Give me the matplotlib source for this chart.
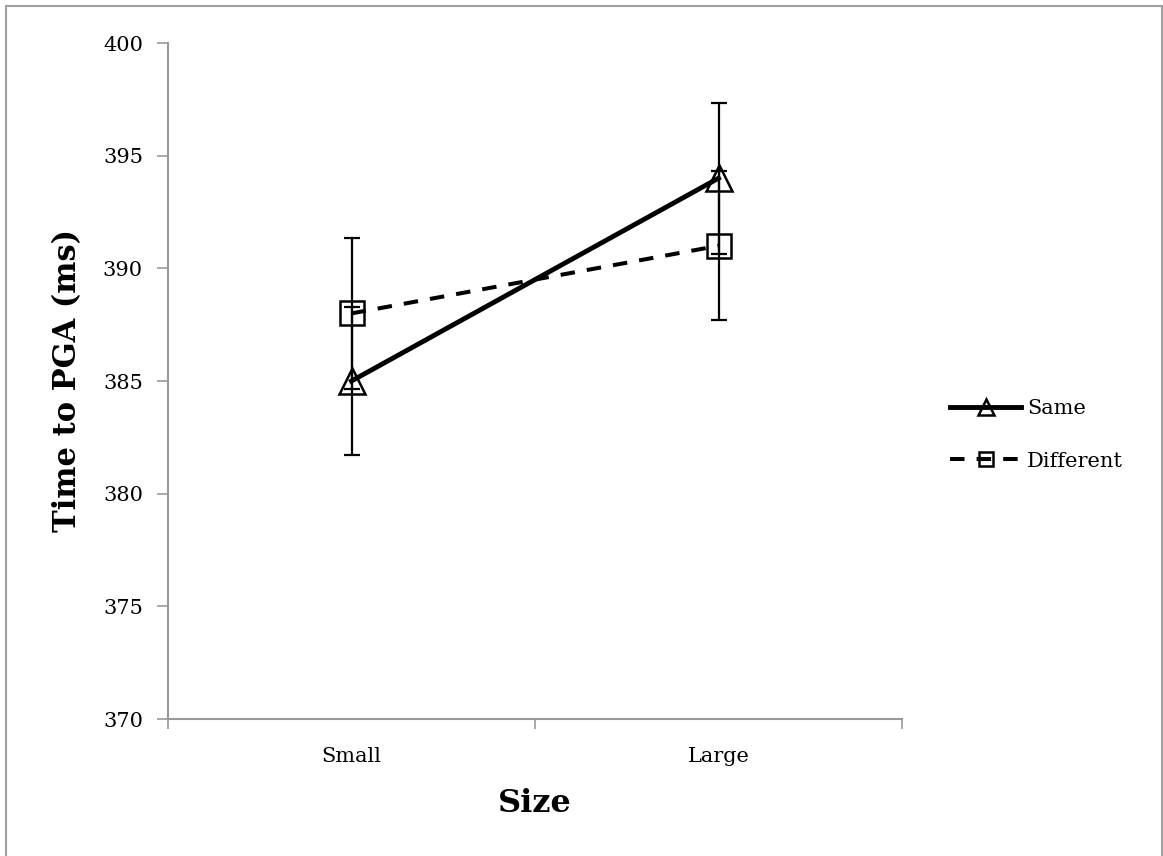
import matplotlib
matplotlib.use("Agg")
import matplotlib.pyplot as plt
from matplotlib.patches import Rectangle
import numpy as np

categories = ["Small", "Large"]
same_vals = [385.0, 394.0]
same_err = [3.3, 3.35]
diff_vals = [388.0, 391.0]
diff_err = [3.35, 3.3]
yticks = [370, 375, 380, 385, 390, 395, 400]

plt.rcParams['font.family'] = ['DejaVu Serif']

fig = plt.figure(figsize=(11.63, 8.56), dpi=100)
ax = fig.add_axes([168/1163, 1-719/856, (902-168)/1163, (719-43)/856])

x = np.arange(len(categories))

ax.errorbar(x, same_vals, yerr=same_err, fmt='none', ecolor='black', elinewidth=1.6,
            capsize=6, capthick=1.6, zorder=4)
ax.errorbar(x, diff_vals, yerr=diff_err, fmt='none', ecolor='black', elinewidth=1.6,
            capsize=6, capthick=1.6, zorder=4)
ax.plot(x, same_vals, color='black', lw=3.5, ls='-', marker='^', markersize=18.5,
        markerfacecolor='none', markeredgecolor='black', markeredgewidth=1.8,
        label='Same', zorder=3)
ax.plot(x, diff_vals, color='black', lw=2.9, ls=(0, (3.6, 3)), marker='s', markersize=17.5,
        markerfacecolor='none', markeredgecolor='black', markeredgewidth=1.8,
        label='Different', zorder=3)

ax.set_xlim(-0.5, 1.5)
ax.set_ylim(370, 400)
ax.set_yticks(yticks)
ax.set_yticklabels([str(v) for v in yticks], fontsize=15)
ax.set_xticks([-0.5, 0.5, 1.5])
ax.set_xticklabels([])
ax.set_xticks(x, minor=True)
ax.set_xticklabels(categories, minor=True, fontsize=15)
ax.tick_params(axis='x', which='minor', length=0, pad=20)
ax.tick_params(axis='x', which='major', length=7, width=1.2, color='#999999', direction='out')
ax.tick_params(axis='y', length=8, width=1.2, color='#999999', direction='out', pad=10)

for s in ['top', 'right']:
    ax.spines[s].set_visible(False)
for s in ['left', 'bottom']:
    ax.spines[s].set_color('#999999')
    ax.spines[s].set_linewidth(1.5)

ax.set_ylabel("Time to PGA (ms)", fontsize=22, fontweight='bold', labelpad=14)
ax.set_xlabel("Size", fontsize=23, fontweight='bold', labelpad=16)

leg = ax.legend(loc='center left', bbox_to_anchor=(1.04, 0.42), frameon=False,
                fontsize=15, handlelength=3.4, handletextpad=0.3, labelspacing=1.6,
                markerscale=0.6)

fig.patches.append(Rectangle((6/1163, -0.01), (1162-6)/1163, 1 - 6/856 + 0.01,
                             transform=fig.transFigure, fill=False,
                             edgecolor='#a0a0a0', lw=1.5))

fig.savefig("out.png", dpi=100)
